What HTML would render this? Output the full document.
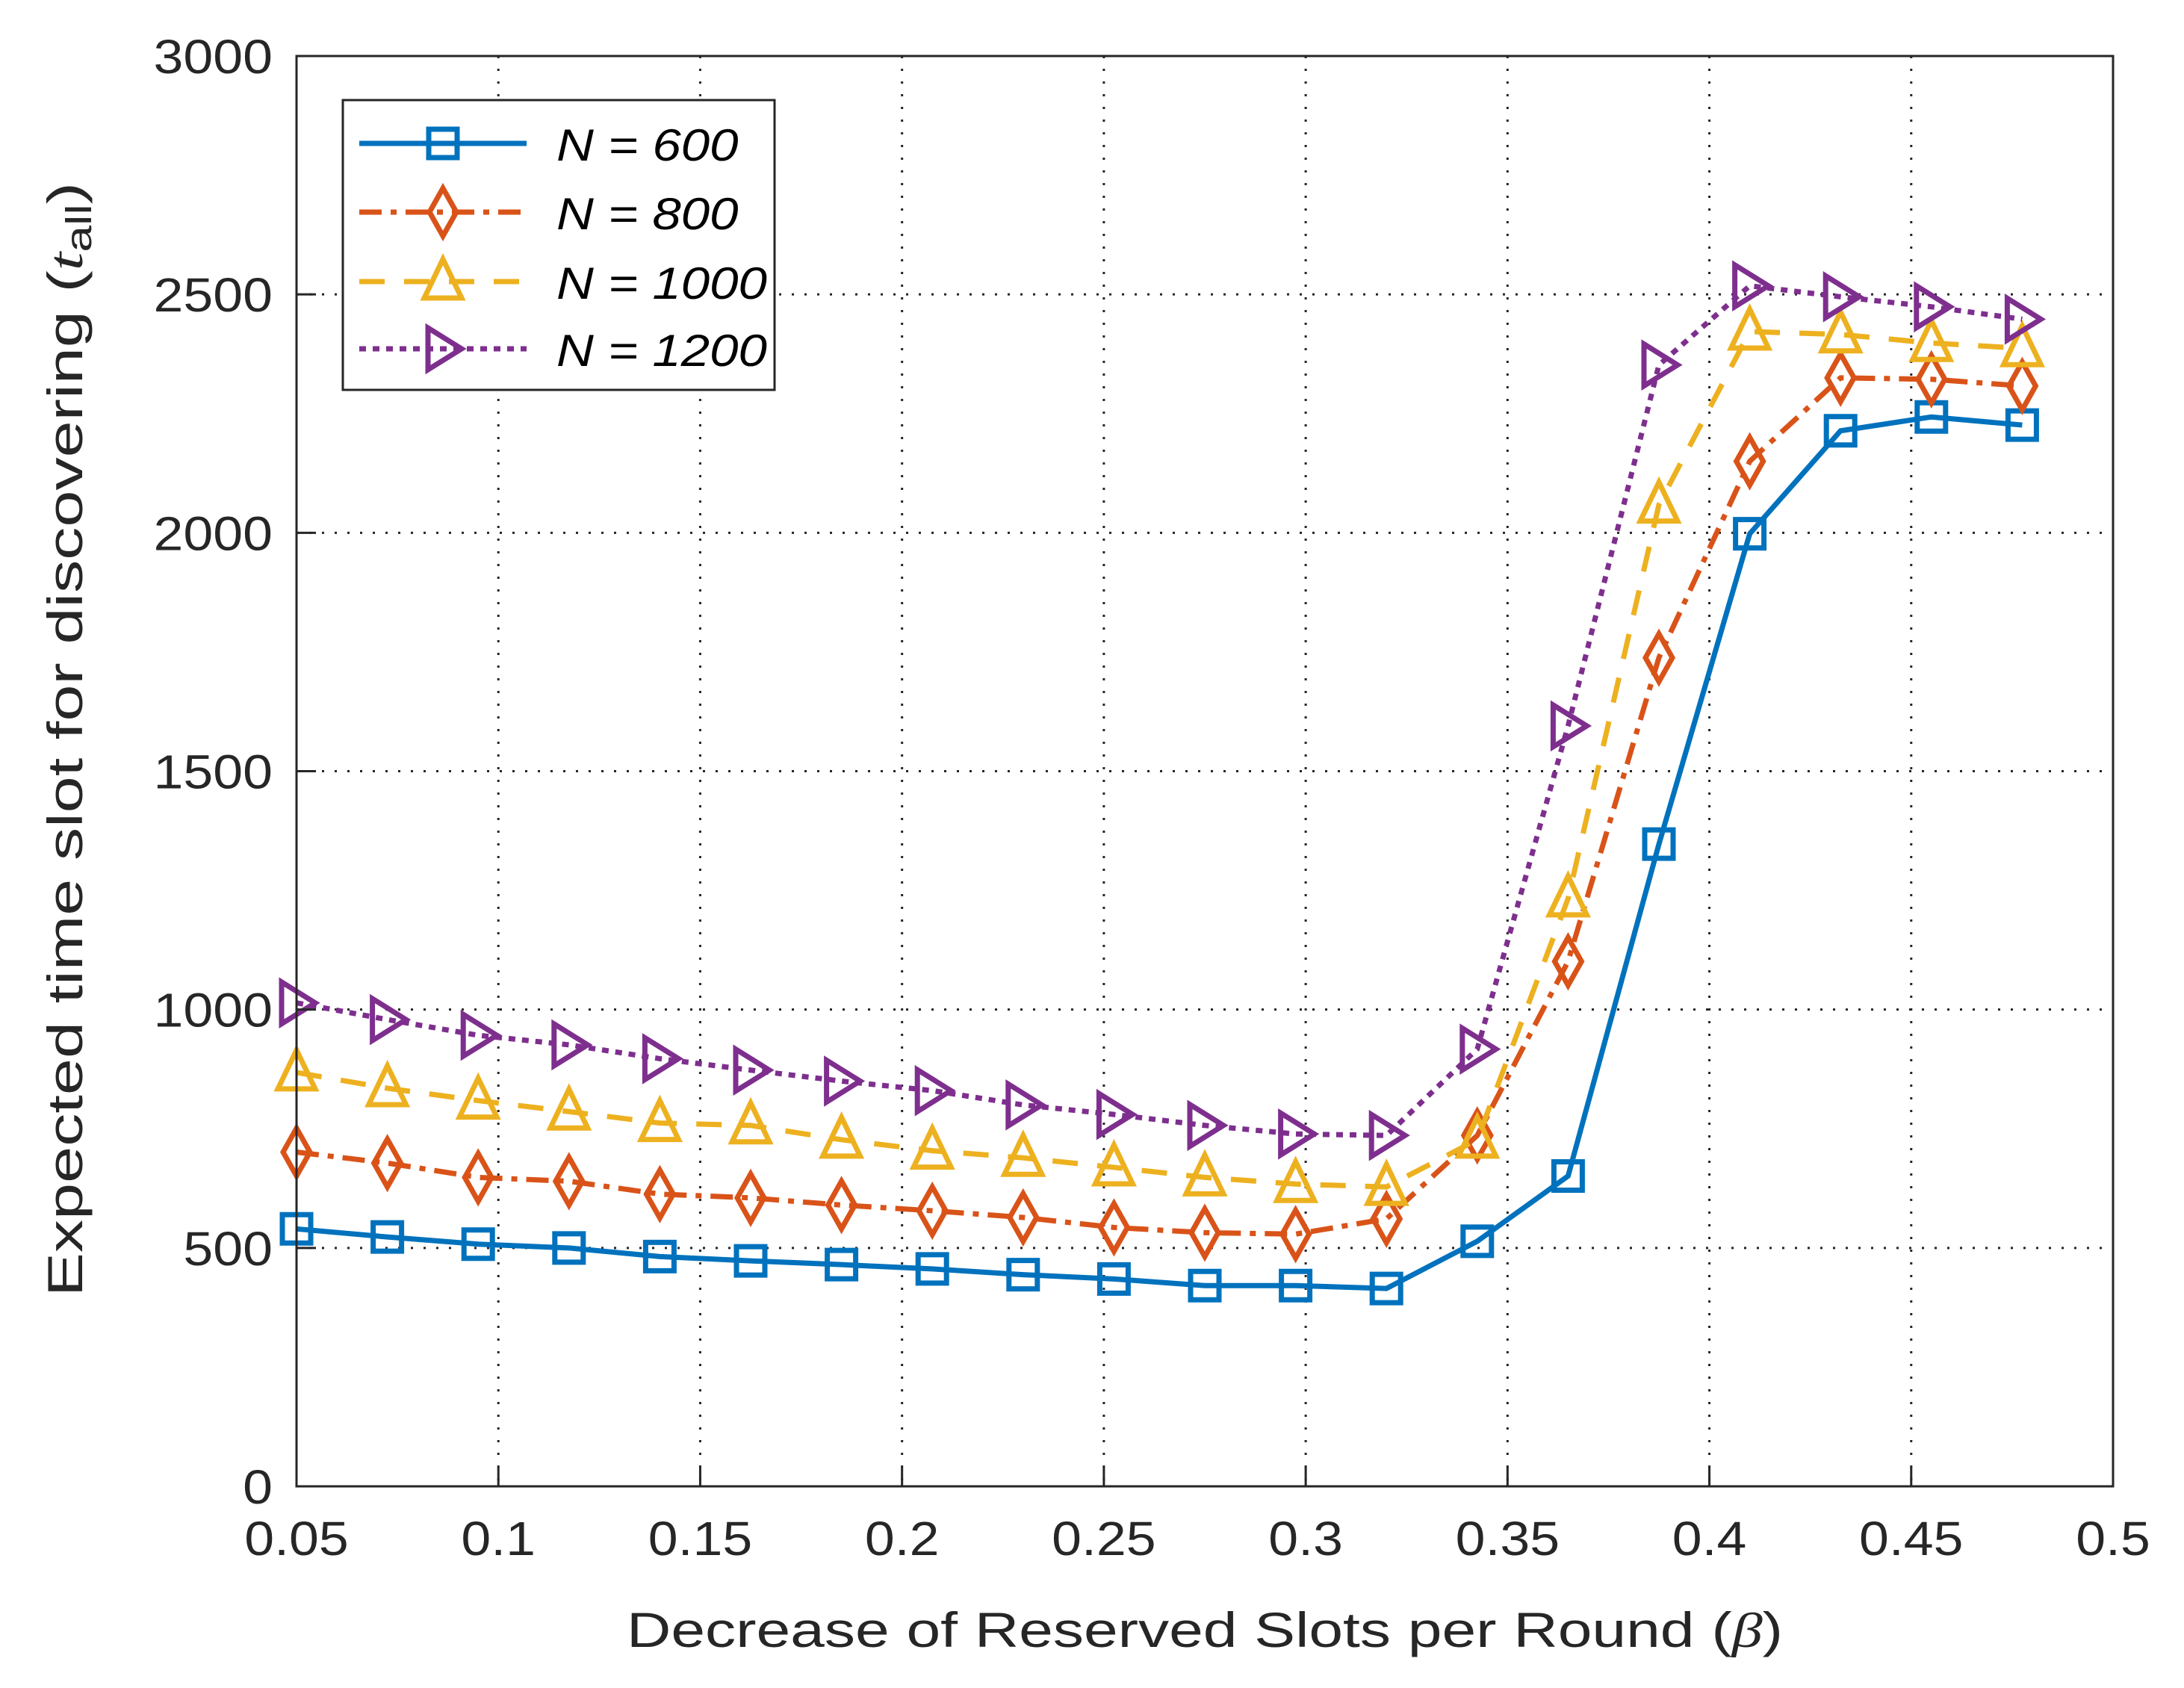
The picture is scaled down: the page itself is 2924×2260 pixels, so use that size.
<!DOCTYPE html>
<html><head><meta charset="utf-8"><style>
html,body{margin:0;padding:0;background:#fff;}
svg{display:block;font-family:"Liberation Sans",sans-serif;}
</style></head><body>
<svg id="chart" width="2924" height="2260" viewBox="0 0 2924 2260" xmlns="http://www.w3.org/2000/svg">
<rect width="2924" height="2260" fill="#fff"/>
<g id="grid"></g>
<g id="series"></g>
<rect x="397" y="75" width="2432" height="1915" fill="none" stroke="#262626" stroke-width="3"/>
<g id="ticks"></g>
<text x="1613" y="2205" font-size="66" text-anchor="middle" fill="#262626" textLength="1548" lengthAdjust="spacingAndGlyphs">Decrease of Reserved Slots per Round (<tspan font-family="Liberation Serif" font-style="italic">β</tspan>)</text>
<text transform="translate(110,990) rotate(-90)" font-size="66" text-anchor="middle" fill="#262626" textLength="1492" lengthAdjust="spacingAndGlyphs">Expected time slot for discovering (<tspan font-family="Liberation Serif" font-style="italic">t</tspan><tspan font-size="48" dy="12">all</tspan><tspan dy="-12">)</tspan></text>
<g id="legend"></g>
</svg>
<script>
const xValues=[0.05,0.0725,0.095,0.1175,0.14,0.1625,0.185,0.2075,0.23,0.2525,0.275,0.2975,0.32,0.3425,0.365,0.3875,0.41,0.4325,0.455,0.4775];
const n600=[540,523,508,500,482,473,465,456,444,435,421,421,415,514,651,1347,1998,2214,2243,2226];
const n800=[701,678,648,640,613,605,590,578,564,543,532,529,561,736,1101,1738,2150,2325,2322,2308];
const n1000=[868,835,809,786,762,757,727,704,689,669,648,634,628,727,1233,2059,2422,2416,2398,2387];
const n1200=[1014,979,946,926,897,873,850,830,800,780,757,739,736,917,1595,2352,2518,2495,2474,2448];
const xTicks=[0.05,0.1,0.15,0.2,0.25,0.3,0.35,0.4,0.45,0.5];
const xTickLabels=["0.05","0.1","0.15","0.2","0.25","0.3","0.35","0.4","0.45","0.5"];
const yTicks=[0,500,1000,1500,2000,2500,3000];
const yTickLabels=["0","500","1000","1500","2000","2500","3000"];
const seriesNames=["N = 600","N = 800","N = 1000","N = 1200"];

const L=397,R=2829,T=75,B=1990;
const xs=v=>L+(v-0.05)/(0.5-0.05)*(R-L);
const ys=v=>B-v/3000*(B-T);
const NS="http://www.w3.org/2000/svg";
function mk(tag,attrs,parent){const e=document.createElementNS(NS,tag);for(const k in attrs)e.setAttribute(k,attrs[k]);parent.appendChild(e);return e;}
const grid=document.getElementById('grid'),ticks=document.getElementById('ticks'),sg=document.getElementById('series'),lg=document.getElementById('legend');

xTicks.forEach((v,i)=>{
  const x=xs(v);
  if(i>0&&i<xTicks.length-1){const g=mk('line',{x1:x,y1:T,x2:x,y2:B,stroke:'#262626','stroke-width':3,'stroke-dasharray':'3 14'},grid);
  
  }
  const t1=mk('line',{x1:x,y1:B,x2:x,y2:B-26,stroke:'#262626','stroke-width':3},ticks);
  
  
  const lb=mk('text',{transform:`translate(${x},${B+92}) scale(1.12,1)`,'font-size':64,'text-anchor':'middle',fill:'#262626'},ticks);
  lb.textContent=xTickLabels[i];
  
  
});
yTicks.forEach((v,i)=>{
  const y=ys(v);
  if(i>0&&i<yTicks.length-1){const g=mk('line',{x1:L,y1:y,x2:R,y2:y,stroke:'#262626','stroke-width':3,'stroke-dasharray':'3 14'},grid);
  
  }
  const t1=mk('line',{x1:L,y1:y,x2:L+26,y2:y,stroke:'#262626','stroke-width':3},ticks);
  
  
  const lb=mk('text',{transform:`translate(${L-32},${y+23}) scale(1.12,1)`,'font-size':64,'text-anchor':'end',fill:'#262626'},ticks);
  lb.textContent=yTickLabels[i];
  
  
});

const colors=['#0072BD','#D95319','#EDB120','#7E2F8E'];
const dashes=['none','30 12 8 12','34 26','9 9'];
const shapes=['square','diamond','triangle','right'];
function marker(shape,x,y,c,parent){
  let d;
  if(shape==='square')d=`M${x-19},${y-19}H${x+19}V${y+19}H${x-19}Z`;
  else if(shape==='diamond')d=`M${x},${y-32}L${x+18},${y}L${x},${y+32}L${x-18},${y}Z`;
  else if(shape==='triangle')d=`M${x},${y-30}L${x+25},${y+22}L${x-25},${y+22}Z`;
  else d=`M${x-20},${y-28}L${x+25},${y}L${x-20},${y+28}Z`;
  return mk('path',{d:d,fill:'none',stroke:c,'stroke-width':7,'stroke-linejoin':'miter'},parent);
}
[n600,n800,n1000,n1200].forEach((vals,s)=>{
  const g=mk('g',{},sg);
  
  
  const pts=vals.map((v,i)=>xs(xValues[i])+','+ys(v)).join(' ');
  const pl=mk('polyline',{points:pts,fill:'none',stroke:colors[s],'stroke-width':7,'stroke-dasharray':dashes[s]},g);
  
  
  vals.forEach((v,i)=>{
    const m=marker(shapes[s],xs(xValues[i]),ys(v),colors[s],g);
    
    
  });
});

const box=mk('rect',{x:459,y:134,width:578,height:388,fill:'#fff',stroke:'#262626','stroke-width':3},lg);


const ly=[192,284,377,467];
seriesNames.forEach((n,s)=>{
  const g=mk('g',{},lg);
  
  
  mk('line',{x1:481,y1:ly[s],x2:705,y2:ly[s],stroke:colors[s],'stroke-width':7,'stroke-dasharray':dashes[s]},g);
  marker(shapes[s],593,ly[s],colors[s],g);
  const t=mk('text',{transform:`translate(745,${ly[s]+23}) scale(1.15,1)`,'font-size':60,'font-style':'italic',fill:'#000'},g);
  t.textContent=n;
});
</script>
</body></html>
